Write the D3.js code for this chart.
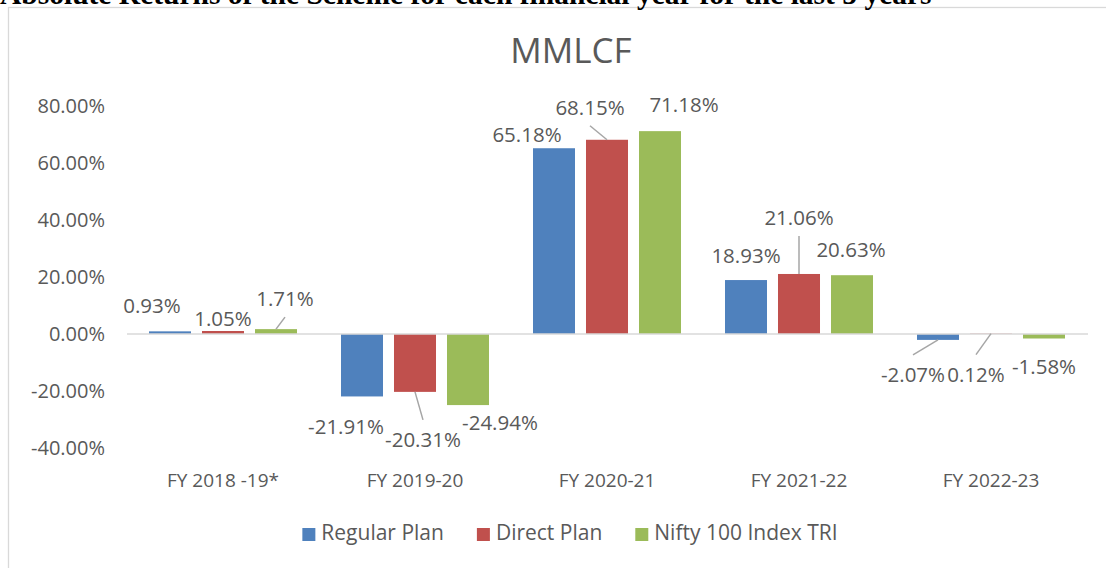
<!DOCTYPE html>
<html>
<head>
<meta charset="utf-8">
<script src="https://cdn.jsdelivr.net/npm/d3@7"></script>
<style>
  body { margin: 0; background: #fff; }
  text { font-family: "Open Sans", sans-serif; }
</style>
</head>
<body>
<script>
// data
const categories = ["FY 2018 -19*", "FY 2019-20", "FY 2020-21", "FY 2021-22", "FY 2022-23"];
const seriesNames = ["Regular Plan", "Direct Plan", "Nifty 100 Index TRI"];
const regularPlan = [0.93, -21.91, 65.18, 18.93, -2.07];
const directPlan = [1.05, -20.31, 68.15, 21.06, 0.12];
const niftyTRI = [1.71, -24.94, 71.18, 20.63, -1.58];
const yTicks = [-40, -20, 0, 20, 40, 60, 80];

// layout: hand-placed data label offsets (px) and leader lines, like the original
const labelShift = [
  [[-18, -18], [-16, 38], [-27, -6], [0, -17], [-25, 42]],
  [[0, -5], [8, 55], [-17, -25], [0, -49], [-15, 48]],
  [[9, -23], [32, 25], [24, -19], [-1, -18], [0, 35]]
];
const hasLeader = [
  [0, 0, 0, 0, 1],
  [0, 1, 1, 1, 1],
  [1, 0, 0, 0, 0]
];

const colors = ["#4f81bd", "#c0504d", "#9bbb59"];
const textColor = "#595959";
const allSeries = [regularPlan, directPlan, niftyTRI];

const svg = d3.select("body")
  .append("svg")
  .attr("width", 1106)
  .attr("height", 568);

// chart frame
svg.append("rect")
  .attr("x", 8.5)
  .attr("y", 7.5)
  .attr("width", 1200)
  .attr("height", 700)
  .attr("fill", "#fff")
  .attr("stroke", "#d9d9d9")
  .attr("stroke-width", 1.3);

// document heading, mostly cut off at the top (as in the original)
svg.append("text")
  .attr("x", 0)
  .attr("y", 4)
  .style("font-family", "'Liberation Serif', serif")
  .style("font-weight", "bold")
  .style("font-size", "29.5px")
  .attr("fill", "#000")
  .text("Absolute Returns of the Scheme for each financial year for the last 5 years");

svg.append("text")
  .attr("x", 571)
  .attr("y", 63)
  .attr("text-anchor", "middle")
  .style("font-size", "35px")
  .attr("fill", textColor)
  .text("MMLCF");

const y = d3.scaleLinear()
  .domain([-40, 80])
  .range([448, 106]);

const x0 = d3.scaleBand()
  .domain(categories)
  .range([127, 1087]);

const x1 = d3.scaleBand()
  .domain(seriesNames)
  .range([0, x0.bandwidth()])
  .paddingInner(0.2075)
  .paddingOuter(0.415);

// y axis labels
const yAxis = svg.append("g")
  .attr("transform", "translate(105,0)")
  .call(d3.axisLeft(y)
    .tickValues(yTicks)
    .tickSize(0)
    .tickPadding(0)
    .tickFormat(d => d.toFixed(2) + "%"));
yAxis.select(".domain").remove();
yAxis.selectAll("text")
  .style("font-family", "'Open Sans', sans-serif")
  .style("font-size", "20px")
  .attr("fill", textColor);

// category labels
const xAxis = svg.append("g")
  .attr("transform", "translate(0,448)")
  .call(d3.axisBottom(x0).tickSize(0).tickPadding(26));
xAxis.select(".domain").remove();
xAxis.selectAll("text")
  .style("font-family", "'Open Sans', sans-serif")
  .style("font-size", "19px")
  .attr("fill", textColor);

// bars
const rows = [];
allSeries.forEach((vals, s) => {
  vals.forEach((v, c) => {
    rows.push({ s: s, c: c, v: v,
      cx: x0(categories[c]) + x1(seriesNames[s]) + x1.bandwidth() / 2 });
  });
});

svg.append("g")
  .selectAll("rect")
  .data(rows)
  .enter()
  .append("rect")
  .attr("x", d => d.cx - x1.bandwidth() / 2)
  .attr("y", d => Math.min(y(d.v), y(0)))
  .attr("width", x1.bandwidth())
  .attr("height", d => Math.abs(y(d.v) - y(0)))
  .attr("fill", d => colors[d.s]);

// zero line
svg.append("line")
  .attr("x1", x0.range()[0])
  .attr("x2", x0.range()[1] + 1)
  .attr("y1", y(0))
  .attr("y2", y(0))
  .attr("stroke", "#d9d9d9")
  .attr("stroke-width", 1.5);

// leader lines: from the label edge nearest the bar to the bar end
svg.append("g")
  .selectAll("line")
  .data(rows.filter(d => hasLeader[d.s][d.c]))
  .enter()
  .append("line")
  .attr("x1", d => d.cx + labelShift[d.s][d.c][0])
  .attr("y1", d => {
    const dy = labelShift[d.s][d.c][1];
    return y(d.v) + dy + (dy < 0 ? 11 : -27);
  })
  .attr("x2", d => d.cx)
  .attr("y2", d => y(d.v))
  .attr("stroke", "#a6a6a6")
  .attr("stroke-width", 1.5);

// data labels
svg.append("g")
  .selectAll("text")
  .data(rows)
  .enter()
  .append("text")
  .attr("x", d => d.cx + labelShift[d.s][d.c][0])
  .attr("y", d => y(d.v) + labelShift[d.s][d.c][1])
  .attr("text-anchor", "middle")
  .style("font-size", "20.5px")
  .attr("fill", textColor)
  .text(d => d.v.toFixed(2) + "%");

// legend
const legend = svg.append("g");
let lx = 0;
seriesNames.forEach((name, i) => {
  const item = legend.append("g").attr("transform", `translate(${lx},0)`);
  item.append("rect")
    .attr("x", 0)
    .attr("y", 528)
    .attr("width", 13)
    .attr("height", 13)
    .attr("fill", colors[i]);
  const t = item.append("text")
    .attr("x", 19)
    .attr("y", 540)
    .style("font-size", "21px")
    .attr("fill", textColor)
    .text(name);
  lx += 19 + t.node().getComputedTextLength() + 33;
});
const legendWidth = lx - 33;
legend.attr("transform", `translate(${570 - legendWidth / 2},0)`);
</script>
</body>
</html>
